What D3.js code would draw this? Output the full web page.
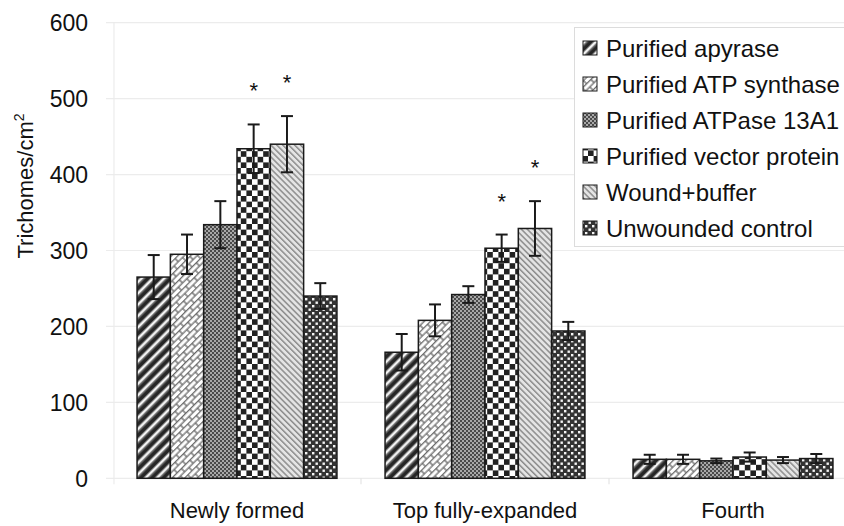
<!DOCTYPE html>
<html><head><meta charset="utf-8">
<script src="https://cdn.jsdelivr.net/npm/d3@7"></script>
<style>
html,body{margin:0;padding:0;background:#fff;}
svg{display:block;font-family:"Liberation Sans",Arial,sans-serif;}
</style></head>
<body><svg id="chart" width="844" height="526"></svg>
<script>
// ---- data ----
const categories = ["Newly formed", "Top fully-expanded", "Fourth"];
const seriesNames = ["Purified apyrase", "Purified ATP synthase", "Purified ATPase 13A1",
  "Purified vector protein", "Wound+buffer", "Unwounded control"];
const apyrase       = [265, 166, 25];
const atpSynthase   = [295, 208, 25];
const atpase13A1    = [334, 242, 23];
const vectorProtein = [434, 303, 28];
const woundBuffer   = [440, 329, 24];
const unwounded     = [240, 194, 26];
const apyraseErr       = [29, 24, 6];
const atpSynthaseErr   = [26, 21, 6];
const atpase13A1Err    = [31, 11, 3];
const vectorProteinErr = [32, 18, 6];
const woundBufferErr   = [37, 36, 4];
const unwoundedErr     = [17, 12, 6];
const vectorProteinSig = [true, true, false];
const woundBufferSig   = [true, true, false];
const noSig            = [false, false, false];
const yTicks = [0, 100, 200, 300, 400, 500, 600];

const seriesValues = [apyrase, atpSynthase, atpase13A1, vectorProtein, woundBuffer, unwounded];
const seriesErrors = [apyraseErr, atpSynthaseErr, atpase13A1Err, vectorProteinErr, woundBufferErr, unwoundedErr];
const seriesSig = [noSig, noSig, noSig, vectorProteinSig, woundBufferSig, noSig];

// ---- setup ----
const svg = d3.select("#chart");
const defs = svg.append("defs");

function stripes(id, period, bg, fg, w, angle) {
  const p = defs.append("pattern").attr("id", id).attr("patternUnits", "userSpaceOnUse")
    .attr("width", period).attr("height", period).attr("patternTransform", `rotate(${angle})`);
  p.append("rect").attr("width", period).attr("height", period).attr("fill", bg);
  p.append("rect").attr("x", 0).attr("y", 0).attr("width", w).attr("height", period).attr("fill", fg);
  return p;
}
// 1 apyrase: dark with light "/" stripes
{
  const p = stripes("p0", 8, "#262626", "#f2f2f2", 2.4, 45);
  p.append("rect").attr("x", 2.4).attr("width", 1).attr("height", 8).attr("fill", "#888");
  p.append("rect").attr("x", 7).attr("width", 1).attr("height", 8).attr("fill", "#888");
}
// 2 ATP synthase: diagonal brick
{
  const p = defs.append("pattern").attr("id", "p1").attr("patternUnits", "userSpaceOnUse")
    .attr("width", 12).attr("height", 9).attr("patternTransform", "rotate(-45)");
  p.append("rect").attr("width", 12).attr("height", 9).attr("fill", "#fff");
  p.append("path").attr("d", "M0,0.7H12M0,5.2H12M1,0.7V5.2M7,5.2V9.7")
    .attr("stroke", "#666").attr("stroke-width", 1.3).attr("fill", "none");
}
// 3 ATPase 13A1: fine gray mesh
{
  const p = defs.append("pattern").attr("id", "p2").attr("patternUnits", "userSpaceOnUse")
    .attr("width", 4).attr("height", 4);
  p.append("rect").attr("width", 4).attr("height", 4).attr("fill", "#a8a8a8");
  p.append("rect").attr("x", 0).attr("y", 0).attr("width", 2).attr("height", 2).attr("fill", "#4a4a4a");
  p.append("rect").attr("x", 2).attr("y", 2).attr("width", 2).attr("height", 2).attr("fill", "#4a4a4a");
}
// 4 vector protein: large checkerboard
{
  const c = 5.6;
  const p = defs.append("pattern").attr("id", "p3").attr("patternUnits", "userSpaceOnUse")
    .attr("width", 2 * c).attr("height", 2 * c);
  p.append("rect").attr("width", 2 * c).attr("height", 2 * c).attr("fill", "#fff");
  p.append("rect").attr("x", 0).attr("y", 0).attr("width", c).attr("height", c).attr("fill", "#222");
  p.append("rect").attr("x", c).attr("y", c).attr("width", c).attr("height", c).attr("fill", "#222");
}
// 5 wound+buffer: light gray with "\" lines
stripes("p4", 4.2, "#e4e4e4", "#8c8c8c", 1.5, -45);
// 6 unwounded: dark with white dots
{
  const p = defs.append("pattern").attr("id", "p5").attr("patternUnits", "userSpaceOnUse")
    .attr("width", 7).attr("height", 7);
  p.append("rect").attr("width", 7).attr("height", 7).attr("fill", "#333");
  p.append("rect").attr("x", 0.5).attr("y", 0.5).attr("width", 2.4).attr("height", 2.4).attr("fill", "#f4f4f4");
  p.append("rect").attr("x", 4).attr("y", 4).attr("width", 2.4).attr("height", 2.4).attr("fill", "#f4f4f4");
}
const fills = ["url(#p0)", "url(#p1)", "url(#p2)", "url(#p3)", "url(#p4)", "url(#p5)"];

const y = d3.scaleLinear().domain([0, 600]).range([478.3, 22.7]);
const x0 = d3.scaleBand().domain(categories).range([113, 857]).paddingInner(0.194).paddingOuter(0.097);
const x1 = d3.scaleBand().domain(d3.range(seriesNames.length)).range([0, x0.bandwidth()]);

// gridlines
svg.append("g").selectAll("line").data(yTicks).join("line")
  .attr("x1", 106).attr("x2", 844)
  .attr("y1", d => y(d)).attr("y2", d => y(d))
  .attr("stroke", "#ececec").attr("stroke-width", 1.2);
// vertical axis line
svg.append("line").attr("x1", 114).attr("x2", 114).attr("y1", y(600)).attr("y2", y(0) + 6)
  .attr("stroke", "#ececec").attr("stroke-width", 1.2);
// x-axis category boundary ticks
const bounds = categories.map(c => x0(c) - x0.step() * x0.paddingInner() / 2);
svg.append("g").selectAll("line").data(bounds.slice(1)).join("line")
  .attr("x1", d => d).attr("x2", d => d).attr("y1", y(0)).attr("y2", y(0) + 6)
  .attr("stroke", "#e4e4e4").attr("stroke-width", 1.2);

// y tick labels
svg.append("g").selectAll("text").data(yTicks).join("text")
  .attr("x", 88).attr("y", d => y(d)).attr("dy", "0.36em")
  .attr("text-anchor", "end").attr("font-size", 23).attr("fill", "#111")
  .text(d => d);

// y title
const yt = svg.append("text").attr("transform", "translate(33,186) rotate(-90)")
  .attr("text-anchor", "middle").attr("font-size", 22).attr("fill", "#111");
yt.append("tspan").text("Trichomes/cm");
yt.append("tspan").attr("font-size", 14).attr("dy", -9).text("2");

// x labels
svg.append("g").selectAll("text").data(categories).join("text")
  .attr("x", d => x0(d) + x0.bandwidth() / 2).attr("y", 518)
  .attr("text-anchor", "middle").attr("font-size", 22).attr("fill", "#111")
  .text(d => d);

// bars
const barData = [];
seriesNames.forEach((s, si) => categories.forEach((c, ci) => {
  barData.push({ si, c, v: seriesValues[si][ci], e: seriesErrors[si][ci], sig: seriesSig[si][ci] });
}));
const bx = d => x0(d.c) + x1(d.si);
svg.append("g").selectAll("rect").data(barData).join("rect")
  .attr("x", bx).attr("y", d => y(d.v))
  .attr("width", x1.bandwidth()).attr("height", d => y(0) - y(d.v))
  .attr("fill", d => fills[d.si]).attr("stroke", "#1a1a1a").attr("stroke-width", 1.5);

// error bars
const eg = svg.append("g").attr("stroke", "#1a1a1a").attr("stroke-width", 2);
const cx = d => bx(d) + x1.bandwidth() / 2;
eg.selectAll("line.v").data(barData).join("line").attr("class", "v")
  .attr("x1", cx).attr("x2", cx).attr("y1", d => y(d.v + d.e)).attr("y2", d => y(d.v - d.e));
eg.selectAll("line.t").data(barData).join("line").attr("class", "t")
  .attr("x1", d => cx(d) - 6).attr("x2", d => cx(d) + 6).attr("y1", d => y(d.v + d.e)).attr("y2", d => y(d.v + d.e));
eg.selectAll("line.b").data(barData).join("line").attr("class", "b")
  .attr("x1", d => cx(d) - 6).attr("x2", d => cx(d) + 6).attr("y1", d => y(d.v - d.e)).attr("y2", d => y(d.v - d.e));

// significance stars
svg.append("g").selectAll("text").data(barData.filter(d => d.sig)).join("text")
  .attr("x", cx).attr("y", d => y(d.v + d.e) - 26)
  .attr("text-anchor", "middle").attr("font-size", 22).attr("fill", "#111")
  .text("*");

// legend
const lg = svg.append("g");
lg.append("rect").attr("x", 574.5).attr("y", 27.5).attr("width", 290).attr("height", 219)
  .attr("fill", "#fff").attr("stroke", "#dcdcdc").attr("stroke-width", 1);
const li = lg.selectAll("g").data(seriesNames).join("g")
  .attr("transform", (d, i) => `translate(0,${48 + i * 36})`);
li.append("rect").attr("x", 583).attr("y", -7).attr("width", 14).attr("height", 14)
  .attr("fill", (d, i) => fills[i]).attr("stroke", "#1a1a1a").attr("stroke-width", 1);
li.append("text").attr("x", 606).attr("y", 0).attr("dy", "0.36em")
  .attr("font-size", 24).attr("fill", "#111").text(d => d);
</script>
</body></html>
